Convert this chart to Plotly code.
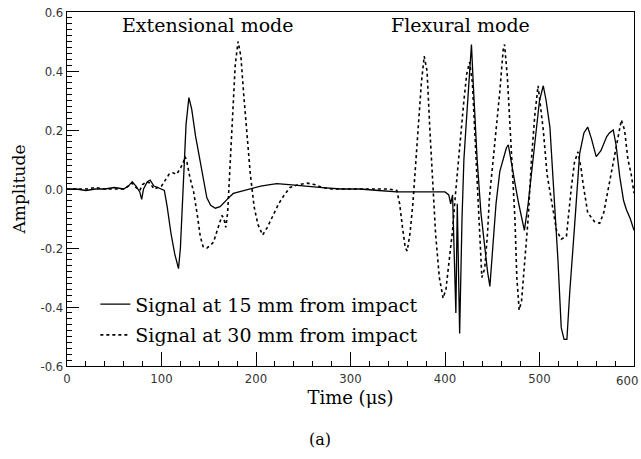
import plotly.graph_objects as go

# Signal at 15 mm from impact (solid)
t15 = [0, 10, 20, 30, 40, 50, 60, 65, 69, 73, 77, 79, 81, 85, 88, 92, 96, 100, 103, 106,
       110, 114, 118, 120, 123, 126, 129, 132, 136, 141, 145, 148, 152, 157, 162, 166, 171,
       176, 185, 194, 205, 215, 222, 235, 250, 270, 290, 310, 330, 349, 370, 390, 400, 404,
       406, 408, 409.5, 411.5, 413, 415.5, 418, 420, 422, 424, 426, 428, 430, 434, 438, 442,
       445, 447.5, 450, 454, 458, 462, 465, 467, 470, 474, 478, 481, 484, 488, 493, 497, 500,
       504, 507, 511, 516, 519.5, 523, 526, 529, 532, 537, 542.5, 547, 551, 555, 560, 565,
       571, 574, 578, 581, 585, 589, 592, 596, 600]
a15 = [0.0, 0.0, -0.005, 0.0, 0.0, 0.005, 0.0, 0.01, 0.025, 0.01, -0.01, -0.035, 0.0, 0.025,
       0.03, 0.01, 0.005, 0.0, -0.005, -0.06, -0.15, -0.22, -0.27, -0.2, 0.0, 0.22, 0.31, 0.27,
       0.18, 0.09, 0.02, -0.03, -0.055, -0.065, -0.06, -0.045, -0.03, -0.015, -0.008, 0.0,
       0.01, 0.015, 0.018, 0.015, 0.01, 0.005, 0.0, 0.0, -0.005, -0.01, -0.01, -0.01, -0.01,
       -0.02, -0.05, -0.02, -0.2, -0.42, -0.05, -0.49, -0.1, 0.1, 0.2, 0.3, 0.38, 0.49, 0.35,
       0.1, -0.08, -0.2, -0.28, -0.33, -0.22, -0.05, 0.06, 0.11, 0.14, 0.15, 0.1, 0.02, -0.05,
       -0.1, -0.14, -0.05, 0.1, 0.22, 0.3, 0.35, 0.3, 0.21, -0.05, -0.24, -0.47, -0.51, -0.51,
       -0.35, -0.13, 0.12, 0.19, 0.21, 0.17, 0.11, 0.13, 0.177, 0.19, 0.2, 0.15, 0.04, -0.04,
       -0.07, -0.1, -0.14]

# Signal at 30 mm from impact (dotted)
t30 = [0, 10, 20, 30, 40, 50, 60, 65, 69, 73, 77, 80, 84, 88, 92, 96, 100, 104, 108, 112,
       116, 120, 123, 125, 127, 130, 134, 138, 141, 144, 148, 152, 155, 158, 161, 164, 166,
       168, 170, 172, 175, 178, 181, 184, 187, 190, 194, 198, 202, 207, 212, 218, 224, 230,
       236, 245, 254, 262, 270, 280, 300, 320, 340, 349, 352, 355, 358, 360, 363, 366, 369,
       372, 375, 378, 381, 384, 387, 390, 394, 398, 401, 404, 408, 411, 414, 417, 420, 423,
       426, 429, 433, 436, 439, 442, 445, 447, 451, 454.5, 458, 461.5, 463, 466, 470, 474,
       476, 478.5, 481, 484, 488, 491.5, 495, 498.5, 501, 504, 508, 513, 518, 523, 528.5,
       533.8, 537, 540.7, 544, 546, 551, 558, 563.7, 568, 574, 581, 586.6, 590, 593.6, 597, 600]
a30 = [0.0, 0.0, 0.0, 0.005, 0.0, 0.0, 0.0, 0.01, 0.02, 0.005, -0.005, 0.015, 0.025, 0.02,
       0.0, 0.005, 0.01, 0.03, 0.05, 0.055, 0.05, 0.07, 0.09, 0.11, 0.09, 0.04, -0.01, -0.09,
       -0.16, -0.195, -0.2, -0.19, -0.18, -0.15, -0.12, -0.09, -0.1, -0.13, -0.08, 0.05, 0.25,
       0.42, 0.5, 0.45, 0.32, 0.2, 0.05, -0.06, -0.12, -0.156, -0.13, -0.09, -0.05, -0.02,
       0.005, 0.015, 0.02, 0.015, 0.005, 0.0, 0.0, 0.0, 0.0, -0.005, -0.05, -0.13, -0.2, -0.21,
       -0.15, -0.05, 0.08, 0.22, 0.36, 0.45, 0.4, 0.2, 0.0, -0.15, -0.3, -0.37, -0.34, -0.25,
       -0.14, -0.02, 0.09, 0.2, 0.3, 0.39, 0.43, 0.36, 0.09, -0.1, -0.3, -0.27, -0.15, -0.03,
       0.1, 0.2, 0.33, 0.47, 0.49, 0.38, 0.15, -0.1, -0.3, -0.41, -0.38, -0.25, -0.1, 0.1, 0.25,
       0.35, 0.28, 0.2, 0.05, -0.05, -0.14, -0.17, -0.16, 0.008, 0.09, 0.126, 0.07, 0.02, -0.08,
       -0.11, -0.116, -0.08, 0.02, 0.13, 0.234, 0.2, 0.1, 0.05, -0.014]

x_ticks = [0, 100, 200, 300, 400, 500, 600]
x_labels = ["0", "100", "200", "300", "400", "500", ""]
x_last_label = "600"
y_ticks = [-0.6, -0.4, -0.2, 0.0, 0.2, 0.4, 0.6]
y_labels = ["-0.6", "-0.4", "-0.2", "0.0", "0.2", "0.4", "0.6"]
names = ["Signal at 15 mm from impact", "Signal at 30 mm from impact"]

serif = "DejaVu Serif, Liberation Serif, serif"
narrow = "Liberation Sans Narrow, DejaVu Sans Condensed, Arial Narrow, sans-serif"

fig = go.Figure()
fig.add_trace(go.Scatter(x=t15, y=a15, mode="lines", name=names[0], legendgroup="a",
                         line=dict(color="black", width=1.3)))
fig.add_trace(go.Scatter(x=t30, y=a30, mode="lines", name=names[1], legendgroup="b",
                         line=dict(color="black", width=1.6, dash="dot")))

fig.update_layout(
    template="simple_white",
    width=641, height=459,
    margin=dict(l=67, r=7, t=12, b=93, autoexpand=False),
    paper_bgcolor="white", plot_bgcolor="white",
    showlegend=True,
    legend=dict(x=0.05, y=0.228, xanchor="left", yanchor="top",
                bgcolor="rgba(0,0,0,0)", font=dict(family=serif, size=19, color="black"),
                tracegroupgap=3),
    font=dict(family=serif, color="black"),
)
fig.update_xaxes(
    range=[0, 600], tickmode="array", tickvals=x_ticks, ticktext=x_labels,
    ticks="inside", ticklen=14, tickwidth=1.3,
    tickcolor="#000000", showline=True, linecolor="black", linewidth=1.3, mirror=True,
    showgrid=False, zeroline=False, automargin=False,
    layer="above traces",
    tickfont=dict(family=narrow, size=13, color="#333"),
    minor=dict(tickmode="linear", tick0=0, dtick=20, ticks="inside", ticklen=5,
               tickcolor="#000000", tickwidth=1, showgrid=False),
    title=dict(text="Time (μs)", font=dict(family=serif, size=18, color="black"), standoff=6),
)
fig.update_yaxes(
    range=[-0.6, 0.6], tickmode="array", tickvals=y_ticks, ticktext=y_labels,
    ticks="inside", ticklen=12,
    tickwidth=1.3, tickcolor="#000000", showline=True, linecolor="black", linewidth=1.3,
    mirror=True, showgrid=False, zeroline=False, automargin=False,
    layer="above traces",
    tickfont=dict(family=narrow, size=13, color="#333"),
    minor=dict(tickmode="linear", tick0=-0.6, dtick=0.02, ticks="inside", ticklen=5,
               tickcolor="#000000", tickwidth=1, showgrid=False),
    title=dict(text="Amplitude", font=dict(family=serif, size=17, color="black"), standoff=10),
)

fig.add_annotation(text=x_last_label, x=x_ticks[-1], y=0, xref="x", yref="paper",
                   xanchor="right", yanchor="middle", xshift=6, yshift=-14, showarrow=False,
                   font=dict(family=narrow, size=13, color="#333"))
fig.add_annotation(text="Extensional mode", x=149, y=0.6, xref="x", yref="y", yshift=0,
                   showarrow=False, yanchor="top", font=dict(family=serif, size=19, color="black"))
fig.add_annotation(text="Flexural mode", x=416, y=0.6, xref="x", yref="y", yshift=0,
                   showarrow=False, yanchor="top", font=dict(family=serif, size=19, color="black"))
fig.add_annotation(text="(a)", x=0.447, y=-0.209, xref="paper", yref="paper",
                   showarrow=False, yanchor="middle", font=dict(family=serif, size=16, color="black"))

fig.write_html("out.html")
